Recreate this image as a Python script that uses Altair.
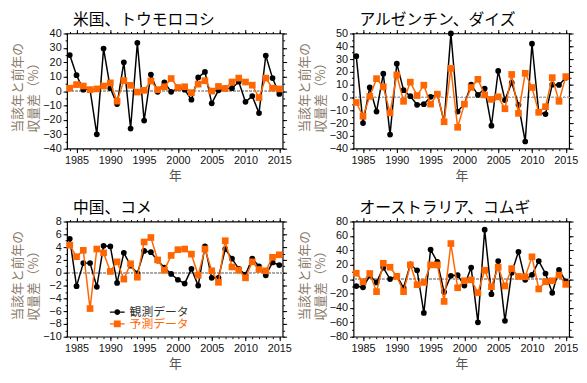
import altair as alt
import pandas as pd

years = list(range(1984, 2016))

titles = ["米国、トウモロコシ", "アルゼンチン、ダイズ", "中国、コメ", "オーストラリア、コムギ"]
series_names = ["観測データ", "予測データ"]
y_title = ["当該年と前年の", "収量差（%）"]
x_title = "年"

us_obs = [25, 11, 1, 1, -30, 29.5, 2, -9, 20, -26, 33.5, -20.5, 11.5, -0.5, 6, -0.5,
          2, 1, -6, 9.5, 13.3, -8.5, 0.5, 1.8, 2, 6.5, -7.5, -3.5, -15.3, 24.7, 9, -2]
us_pred = [2, 4.5, 3.5, 1, 1.5, 3.5, 5.7, -7, 7.3, 4, -0.7, 0.5, 7, 1, 3, 8.7,
           2.5, 3, -1.1, 4.8, 7.2, 0, 3.2, 1.8, 6.3, 9, 6.3, 4.1, -4.5, 9, 2, 1.5]

arg_obs = [32.3, -20, 7.8, -11, 18.6, -29, 26.4, 5.7, 1, -5.7, -5.2, 0.5, 2.6, -19, 50, -11,
           -5, 10, 2, 7, -22, 20.7, -2, 11.6, -5.7, -34.4, 42, -11.6, -13, 10, 9.8, 15.5]
arg_pred = [-3.9, -14.7, 0.8, 14.7, 8.3, -12, 17.6, -3, 12, 1.5, 9.6, -5.2, 2.6, -19, 22.7, -23.3,
            -5.2, 7.8, 14.2, 2, -1.5, 0.5, -8.8, 18, -12.4, 18.9, 7.8, -11.6, -7.2, 15.5, -3, 16.3]

cn_obs = [5.3, -2.1, 1.5, 1.5, -2.2, 4.2, 4.1, -1.6, 3.1, 1.1, -0.1, 3.4, 3.2, 1.9, 0.8, -0.2,
          -1.1, -1.7, 0.6, -2, 4.1, -0.8, -0.8, 3.7, 2.2, 0.6, -0.3, 2.2, 1, -0.4, 1.6, 1.2]
cn_pred = [4.3, 2.5, 3.5, -5.6, 3.7, 3.1, 0.2, 1.7, -1, 1.4, -0.7, 4.8, 5.5, 2, 0.4, 2.7,
           3.6, 3.7, 2.9, -0.4, 3.7, 0.3, -1.5, 5, 0.9, 0.4, -0.8, 1.7, 0.5, 0.3, 2.4, 2.8]

au_obs = [-9.6, -11.4, 5, -4.6, 16, 0, 4.6, -12, 20.6, 12.3, -47, 41, 23.8, -18, 4.6, 5.5,
          -9, 16, -60, 68.6, -21, 25, -58, 9, 38, -1, 6, 25, 7.8, -19, 12.8, -3]
au_pred = [8.2, -3.7, 7.8, -17.4, 22, 16.5, 3.7, -17.4, 19.7, -7.8, -4.6, 19.7, 19.7, -31, 49.4, -12,
           -2.3, -1, -19, 12.3, -10.5, 16.5, -9.6, 14.6, 3.7, 3.2, 31, -13.7, -3.7, -2.3, 5.5, -7.3]

y_ranges = [(-40, 40, 10), (-40, 50, 10), (-10, 8, 2), (-80, 80, 20)]

OBS_COLOR = "black"
PRED_COLOR = "#ff6600"
YT_COLOR = "#8a7a68"
JP = "Noto Sans CJK JP"
NUM = "Liberation Sans"

W, H = 219, 117

circle_path = ("M-0.5,0A0.5,0.5 0 1,0 0.5,0A0.5,0.5 0 1,0 -0.5,0Z "
               "M-1.25,-0.12H-0.5V0.12H-1.25Z M0.5,-0.12H1.25V0.12H0.5Z")
square_path = ("M-0.58,-0.58H0.58V0.58H-0.58Z "
               "M-1.25,-0.12H-0.58V0.12H-1.25Z M0.58,-0.12H1.25V0.12H0.58Z")


def panel(title, obs, pred, yr, legend=False):
    ymin, ymax, ystep = yr
    df = pd.DataFrame({"year": years, "obs": obs, "pred": pred})
    xs = alt.Scale(domain=[1983.6, 2015.5], nice=False, zero=False)
    ys = alt.Scale(domain=[ymin, ymax], nice=False, zero=False)
    major_x = list(range(1985, 2016, 5))
    major_y = list(range(ymin, ymax + 1, ystep))
    n = int((ymax - ymin) / (ystep / 2))
    minor_y = [ymin + i * ystep / 2 for i in range(n + 1)]

    ax_b = alt.Axis(orient="bottom", values=major_x, format="d", tickSize=4, labelPadding=2,
                    title=x_title, titleFont=JP, titleFontSize=13, titleFontWeight="normal",
                    titleColor="#555555", titlePadding=4)
    ax_bm = alt.Axis(orient="bottom", values=years, labels=False, tickSize=2, title=None)
    ax_t = alt.Axis(orient="top", values=major_x, labels=False, tickSize=4, title=None)
    ax_tm = alt.Axis(orient="top", values=years, labels=False, tickSize=2, title=None)
    ay_l = alt.Axis(orient="left", values=major_y, tickSize=4, labelPadding=2,
                    title=y_title, titleFont=JP, titleFontSize=13, titleFontWeight="normal",
                    titleColor=YT_COLOR, titleAlign="left", titleBaseline="top",
                    titleAngle=270, titleX=-56, titleY=100, titleLineHeight=16)
    ay_lm = alt.Axis(orient="left", values=minor_y, labels=False, tickSize=2, title=None)
    ay_r = alt.Axis(orient="right", values=major_y, labels=False, tickSize=4, title=None)
    ay_rm = alt.Axis(orient="right", values=minor_y, labels=False, tickSize=2, title=None)

    base = alt.Chart(df)
    zero = base.mark_rule(color="#aaaaaa", strokeDash=[2, 2], strokeWidth=1).encode(
        y=alt.YDatum(0, scale=ys, axis=None)
    )
    obs_line = base.mark_line(color=OBS_COLOR, strokeWidth=1.5).encode(
        x=alt.X("year:Q", scale=xs, axis=ax_b),
        y=alt.Y("obs:Q", scale=ys, axis=ay_l),
    )
    obs_pts = base.mark_point(filled=True, shape="circle", size=34, color=OBS_COLOR, opacity=1).encode(
        x=alt.X("year:Q", scale=xs, axis=ax_bm),
        y=alt.Y("obs:Q", scale=ys, axis=ay_lm),
    )
    pred_line = base.mark_line(color=PRED_COLOR, strokeWidth=1.5).encode(
        x=alt.X("year:Q", scale=xs, axis=ax_t),
        y=alt.Y("pred:Q", scale=ys, axis=ay_r),
    )
    pred_pts = base.mark_point(filled=True, shape="square", size=46, color=PRED_COLOR, opacity=1).encode(
        x=alt.X("year:Q", scale=xs, axis=ax_tm),
        y=alt.Y("pred:Q", scale=ys, axis=ay_rm),
    )
    layers = [zero, obs_line, obs_pts, pred_line, pred_pts]
    if legend:
        ldf = pd.DataFrame({"series": series_names})
        lg = alt.Legend(title=None, orient="none", legendX=45, legendY=86, padding=0,
                        symbolSize=144, symbolOpacity=1, symbolStrokeWidth=0,
                        labelFont=JP, labelFontSize=12, labelOffset=6.5, rowPadding=0,
                        labelColor={"expr": "datum.label == '予測データ' ? '#ff6600' : '#333333'"})
        leg = alt.Chart(ldf).mark_point(filled=True, opacity=0).encode(
            color=alt.Color("series:N", scale=alt.Scale(domain=series_names, range=[OBS_COLOR, PRED_COLOR]), legend=lg),
            shape=alt.Shape("series:N", scale=alt.Scale(domain=series_names, range=[circle_path, square_path]), legend=lg),
        )
        layers.append(leg)
    ch = alt.layer(*layers).resolve_axis(x="independent", y="independent").properties(
        width=W, height=H,
        title=alt.TitleParams(text=title, anchor="start", frame="group", dx=6, offset=0,
                              font=JP, fontSize=16, fontWeight="normal", color="black"),
    )
    return ch


p1 = panel(titles[0], us_obs, us_pred, y_ranges[0])
p2 = panel(titles[1], arg_obs, arg_pred, y_ranges[1])
p3 = panel(titles[2], cn_obs, cn_pred, y_ranges[2], legend=True)
p4 = panel(titles[3], au_obs, au_pred, y_ranges[3])

row1 = alt.hconcat(p1, p2, spacing=5).resolve_legend(color="independent", shape="independent")
row2 = alt.hconcat(p3, p4, spacing=5).resolve_legend(color="independent", shape="independent")

chart = alt.vconcat(row1, row2, spacing=16).resolve_legend(
    color="independent", shape="independent"
).properties(padding={"left": 3, "top": 0, "right": 0, "bottom": 0}).configure_view(
    stroke="black", strokeWidth=1.2
).configure_axis(
    grid=False, domain=False, labelFont=NUM, labelFontSize=11, labelColor="#111111",
    tickColor="black", tickWidth=1
)

chart.save("out.html", embed_options={"renderer": "svg", "actions": False})
